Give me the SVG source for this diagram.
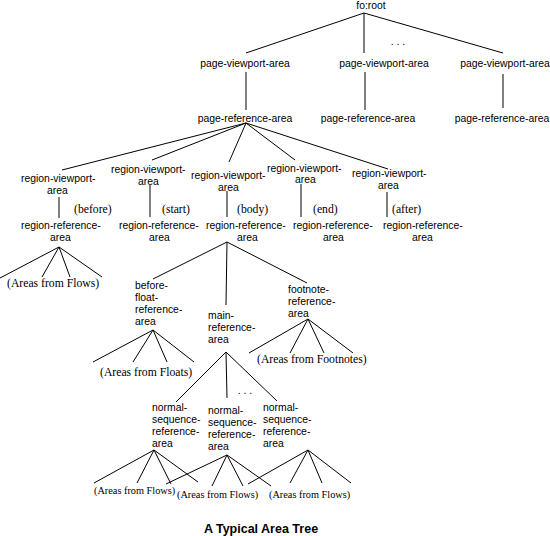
<svg xmlns="http://www.w3.org/2000/svg" width="550" height="536" viewBox="0 0 550 536">
<style>
.s{font-family:"Liberation Sans",Arial,sans-serif;font-size:10.4px;fill:#000}
.m{text-anchor:middle}
.r{font-family:"Liberation Serif","Times New Roman",serif;font-size:11.7px;fill:#000}
.rs{font-family:"Liberation Serif","Times New Roman",serif;font-size:10.3px;fill:#000}
.t{font-family:"Liberation Sans",Arial,sans-serif;font-size:12.5px;font-weight:bold;text-anchor:middle;fill:#000}
#connectors line{stroke:#000;stroke-width:1;fill:none}
</style>
<rect width="550" height="536" fill="#fff"/>
<g id="connectors">
<line x1="364" y1="13" x2="246" y2="53"/>
<line x1="364" y1="13" x2="364" y2="53"/>
<line x1="364" y1="13" x2="503" y2="53"/>
<line x1="246" y1="72" x2="246" y2="110"/>
<line x1="365" y1="72" x2="365" y2="110"/>
<line x1="503" y1="74" x2="503" y2="108"/>
<line x1="246" y1="123" x2="62" y2="170"/>
<line x1="246" y1="123" x2="152" y2="160"/>
<line x1="246" y1="123" x2="229" y2="162"/>
<line x1="246" y1="123" x2="295" y2="160"/>
<line x1="246" y1="123" x2="388" y2="169"/>
<line x1="59" y1="197" x2="59" y2="218"/>
<line x1="150" y1="185" x2="150" y2="217"/>
<line x1="227" y1="191" x2="227" y2="217"/>
<line x1="301" y1="184" x2="301" y2="217"/>
<line x1="387" y1="192" x2="387" y2="217"/>
<line x1="59" y1="247" x2="0" y2="278"/>
<line x1="59" y1="247" x2="42" y2="277"/>
<line x1="59" y1="247" x2="70" y2="277"/>
<line x1="59" y1="247" x2="102" y2="277"/>
<line x1="227" y1="242" x2="153" y2="279"/>
<line x1="227" y1="242" x2="226" y2="305"/>
<line x1="227" y1="242" x2="307" y2="283"/>
<line x1="153" y1="330" x2="93" y2="362"/>
<line x1="153" y1="330" x2="133" y2="362"/>
<line x1="153" y1="330" x2="167" y2="362"/>
<line x1="153" y1="330" x2="194" y2="362"/>
<line x1="308" y1="319" x2="249" y2="353"/>
<line x1="308" y1="319" x2="290" y2="353"/>
<line x1="308" y1="319" x2="324" y2="353"/>
<line x1="308" y1="319" x2="353" y2="353"/>
<line x1="226" y1="352" x2="176" y2="402"/>
<line x1="226" y1="352" x2="227" y2="398"/>
<line x1="226" y1="352" x2="277" y2="401"/>
<line x1="154" y1="450" x2="94" y2="483"/>
<line x1="154" y1="450" x2="137" y2="483"/>
<line x1="154" y1="450" x2="171" y2="484"/>
<line x1="154" y1="450" x2="198" y2="482"/>
<line x1="227" y1="455" x2="166" y2="484"/>
<line x1="227" y1="455" x2="212" y2="486"/>
<line x1="227" y1="455" x2="243" y2="486"/>
<line x1="227" y1="455" x2="271" y2="486"/>
<line x1="308" y1="450" x2="248" y2="484"/>
<line x1="308" y1="450" x2="290" y2="483"/>
<line x1="308" y1="450" x2="322" y2="483"/>
<line x1="308" y1="450" x2="351" y2="483"/>
</g>
<g id="root"><text class="s m" x="371" y="9">fo:root</text></g>
<g id="dots-top"><text class="s m" x="398" y="45">. . .</text></g>
<g id="pva1"><text class="s m" x="245" y="67">page-viewport-area</text></g>
<g id="pva2"><text class="s m" x="384" y="67">page-viewport-area</text></g>
<g id="pva3"><text class="s m" x="505" y="67">page-viewport-area</text></g>
<g id="pra1"><text class="s m" x="245" y="122">page-reference-area</text></g>
<g id="pra2"><text class="s m" x="368" y="122">page-reference-area</text></g>
<g id="pra3"><text class="s m" x="502" y="122">page-reference-area</text></g>
<g id="rva1"><text class="s" x="21" y="182">region-viewport-</text><text class="s" x="47" y="194">area</text></g>
<g id="rva2"><text class="s" x="111" y="173">region-viewport-</text><text class="s" x="138" y="185">area</text></g>
<g id="rva3"><text class="s" x="191" y="179">region-viewport-</text><text class="s" x="218" y="191">area</text></g>
<g id="rva4"><text class="s" x="267" y="172">region-viewport-</text><text class="s" x="295" y="183">area</text></g>
<g id="rva5"><text class="s" x="352" y="177">region-viewport-</text><text class="s" x="378" y="189">area</text></g>
<g id="lbl-before"><text class="r" x="74" y="213">(before)</text></g>
<g id="lbl-start"><text class="r" x="162" y="213">(start)</text></g>
<g id="lbl-body"><text class="r" x="237" y="213">(body)</text></g>
<g id="lbl-end"><text class="r" x="313" y="213">(end)</text></g>
<g id="lbl-after"><text class="r" x="392" y="213">(after)</text></g>
<g id="rra1"><text class="s" x="21" y="229">region-reference-</text><text class="s" x="50" y="241">area</text></g>
<g id="rra2"><text class="s" x="119" y="229">region-reference-</text><text class="s" x="149" y="241">area</text></g>
<g id="rra3"><text class="s" x="206" y="229">region-reference-</text><text class="s" x="237" y="241">area</text></g>
<g id="rra4"><text class="s" x="293" y="229">region-reference-</text><text class="s" x="323" y="241">area</text></g>
<g id="rra5"><text class="s" x="383" y="229">region-reference-</text><text class="s" x="412" y="241">area</text></g>
<g id="flows-top"><text class="r" x="7" y="287">(Areas from Flows)</text></g>
<g id="bfra"><text class="s" x="135" y="289">before-</text><text class="s" x="135" y="301">float-</text><text class="s" x="135" y="313">reference-</text><text class="s" x="135" y="325">area</text></g>
<g id="floats"><text class="r" x="100" y="376">(Areas from Floats)</text></g>
<g id="mra"><text class="s" x="208" y="319">main-</text><text class="s" x="208" y="331">reference-</text><text class="s" x="208" y="343">area</text></g>
<g id="fra"><text class="s" x="288" y="293">footnote-</text><text class="s" x="288" y="305">reference-</text><text class="s" x="288" y="317">area</text></g>
<g id="footnotes"><text class="r" x="257" y="363">(Areas from Footnotes)</text></g>
<g id="dots-mid"><text class="s m" x="245" y="394">. . .</text></g>
<g id="nsra1"><text class="s" x="152" y="411">normal-</text><text class="s" x="152" y="423">sequence-</text><text class="s" x="152" y="435">reference-</text><text class="s" x="152" y="447">area</text></g>
<g id="nsra2"><text class="s" x="208" y="414">normal-</text><text class="s" x="208" y="426">sequence-</text><text class="s" x="208" y="438">reference-</text><text class="s" x="208" y="450">area</text></g>
<g id="nsra3"><text class="s" x="263" y="411">normal-</text><text class="s" x="263" y="423">sequence-</text><text class="s" x="263" y="435">reference-</text><text class="s" x="263" y="447">area</text></g>
<g id="flows1"><text class="rs" x="94" y="494">(Areas from Flows)</text></g>
<g id="flows2"><text class="rs" x="177" y="498">(Areas from Flows)</text></g>
<g id="flows3"><text class="rs" x="269" y="498">(Areas from Flows)</text></g>
<g id="title"><text class="t" x="261" y="533">A Typical Area Tree</text></g>
</svg>
